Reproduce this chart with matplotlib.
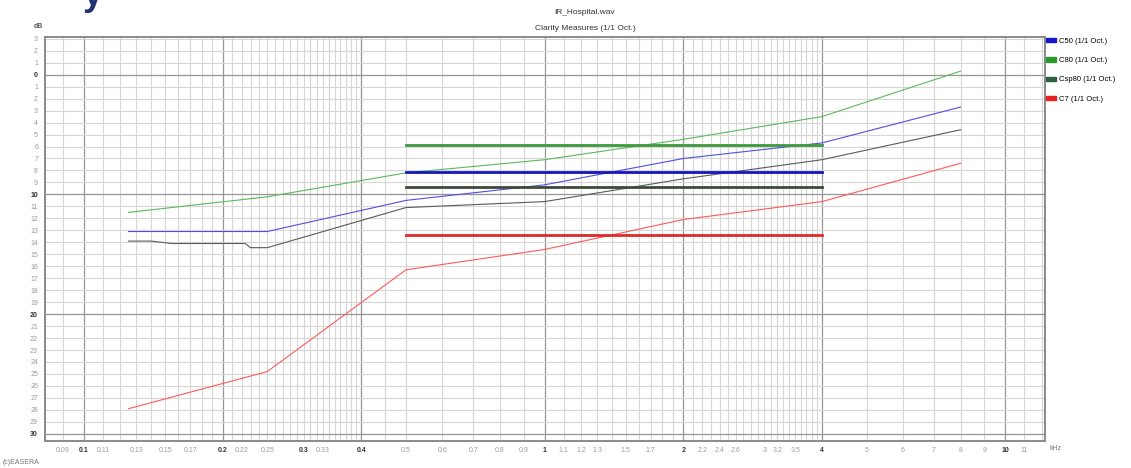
import numpy as np
import matplotlib
matplotlib.use("Agg")
import matplotlib.pyplot as plt
from matplotlib.patches import Patch
from matplotlib.ticker import FuncFormatter

plt.rcParams['font.family'] = ['Liberation Sans', 'DejaVu Sans']

# octave band centre frequencies (kHz)
freqs = [0.125, 0.25, 0.5, 1, 2, 4, 8]
c50 = [-13.1, -13.1, -10.5, -9.2, -7.0, -5.7, -2.7]
c80 = [-11.5, -10.2, -8.2, -7.1, -5.4, -3.5, 0.3]
c7 = [-27.9, -24.8, -16.3, -14.6, -12.1, -10.6, -7.4]

# the dark grey curve has some extra kinks in the low range
csp_f = [0.125, 0.14, 0.155, 0.224, 0.23, 0.25, 0.5, 1, 2, 4, 8]
csp = [-13.9, -13.9, -14.1, -14.1, -14.45, -14.45, -11.1, -10.6, -8.7, -7.1, -4.6]

# single number values, averaged 500 Hz .. 4 kHz
avg_range = [0.5, 4]
avg_c50 = -8.1
avg_c80 = -5.9
avg_csp = -9.4
avg_c7 = -13.4

labels = ["C50 (1/1 Oct.)", "C80 (1/1 Oct.)", "Csp80 (1/1 Oct.)", "C7 (1/1 Oct.)"]

# x tick labels
xlab_f = [0.09, 0.1, 0.11, 0.13, 0.15, 0.17, 0.2, 0.22, 0.25, 0.3, 0.33, 0.4,
          0.5, 0.6, 0.7, 0.8, 0.9, 1, 1.1, 1.2, 1.3, 1.5, 1.7, 2, 2.2, 2.4, 2.6,
          3, 3.2, 3.5, 4, 5, 6, 7, 8, 9, 10, 11]
xlab_bold = [0.1, 0.2, 0.3, 0.4, 1, 2, 4, 10]

# grid frequencies
grid_minor = ([0.09] + list(np.arange(0.11, 0.2, 0.01)) + list(np.arange(0.21, 0.4, 0.01))
              + [0.45] + list(np.arange(0.5, 1.0, 0.1)) + list(np.arange(1.1, 2.0, 0.1))
              + list(np.arange(2.1, 4.0, 0.1)) + [5, 6, 7, 8, 9, 11, 12])
grid_major = [0.1, 0.2, 0.4, 1, 2, 4, 10]

fig = plt.figure(figsize=(11.31, 4.68), dpi=100)
ax = fig.add_axes([45 / 1131, 27 / 468, 1000 / 1131, 404 / 468])
ax.set_xscale('log')
ax.set_xlim(0.0823, 12.2)
ax.set_ylim(-30.6, 3.15)

for f in grid_minor:
    ax.axvline(f, color='#d6d6d6', lw=0.8, zorder=0)
for f in grid_major:
    ax.axvline(f, color='#969696', lw=0.9, zorder=0)
for v in range(-30, 4):
    if v % 10 == 0:
        ax.axhline(v, color='#969696', lw=0.9, zorder=0)
    else:
        ax.axhline(v, color='#d6d6d6', lw=0.8, zorder=0)

# band curves
ax.plot(freqs, c80, color='#5cb85c', lw=0.8)
ax.plot(freqs, c50, color='#5050e0', lw=0.8)
ax.plot(csp_f, csp, color='#5a5a5a', lw=0.8)
ax.plot(freqs, c7, color='#ff5a5a', lw=0.8)

# averages
ax.plot(avg_range, [avg_c80, avg_c80], color='#3c9a3c', lw=2)
ax.plot(avg_range, [avg_c50, avg_c50], color='#1515c0', lw=2)
ax.plot(avg_range, [avg_csp, avg_csp], color='#3c4a3c', lw=2)
ax.plot(avg_range, [avg_c7, avg_c7], color='#e02828', lw=2)

ax.set_xticks(xlab_f)
ax.set_xticklabels([f"{f:g}" for f in xlab_f])
ax.xaxis.set_minor_locator(matplotlib.ticker.NullLocator())
for t, f in zip(ax.get_xticklabels(), xlab_f):
    if f in xlab_bold:
        t.set_fontweight('bold')
        t.set_color('#333333')
    else:
        t.set_color('#9a9a9a')
ax.tick_params(axis='x', length=0, labelsize=5, pad=4)

ax.set_yticks(range(-30, 4))
ax.yaxis.set_major_formatter(FuncFormatter(lambda v, p: f"{abs(v):g}"))
for t, v in zip(ax.get_yticklabels(), range(-30, 4)):
    if v % 10 == 0:
        t.set_fontweight('bold')
        t.set_color('#333333')
    else:
        t.set_color('#9a9a9a')
ax.tick_params(axis='y', length=0, labelsize=5, pad=5)

for s in ax.spines.values():
    s.set_color('#8a8a8a')
    s.set_linewidth(1.4)

fig.text(585 / 1131, 1 - 12 / 468, "IR_Hospital.wav", ha='center', va='center', fontsize=6, color='#333333')
fig.text(585 / 1131, 1 - 28 / 468, "Clarity Measures (1/1 Oct.)", ha='center', va='center', fontsize=6, color='#333333')
fig.text(38 / 1131, 1 - 27 / 468, "dB", ha='center', va='center', fontsize=5, color='#555555', fontweight='bold')
fig.text(1050 / 1131, 1 - 449 / 468, "kHz", ha='left', va='center', fontsize=5, color='#777777')
fig.text(3 / 1131, 1 - 463 / 468, "(c)EASERA", ha='left', va='center', fontsize=5, color='#777777')
# clipped piece of a heading above the screenshot
fig.text(83 / 1131, 1 - 5 / 468, "y", ha='left', va='baseline', fontsize=26, color='#1f3170', fontweight='bold')

handles = [Patch(color='#1515d0'), Patch(color='#2a9a2a'), Patch(color='#2e5e40'), Patch(color='#e82020')]
fig.legend(handles, labels, loc='upper left', bbox_to_anchor=(1046 / 1131, 1 - 38 / 468),
           frameon=False, fontsize=5.5, handlelength=1.3, handleheight=0.5,
           handletextpad=0.4, labelspacing=1.6, borderaxespad=0, borderpad=0)

fig.savefig("out.png", dpi=100)
